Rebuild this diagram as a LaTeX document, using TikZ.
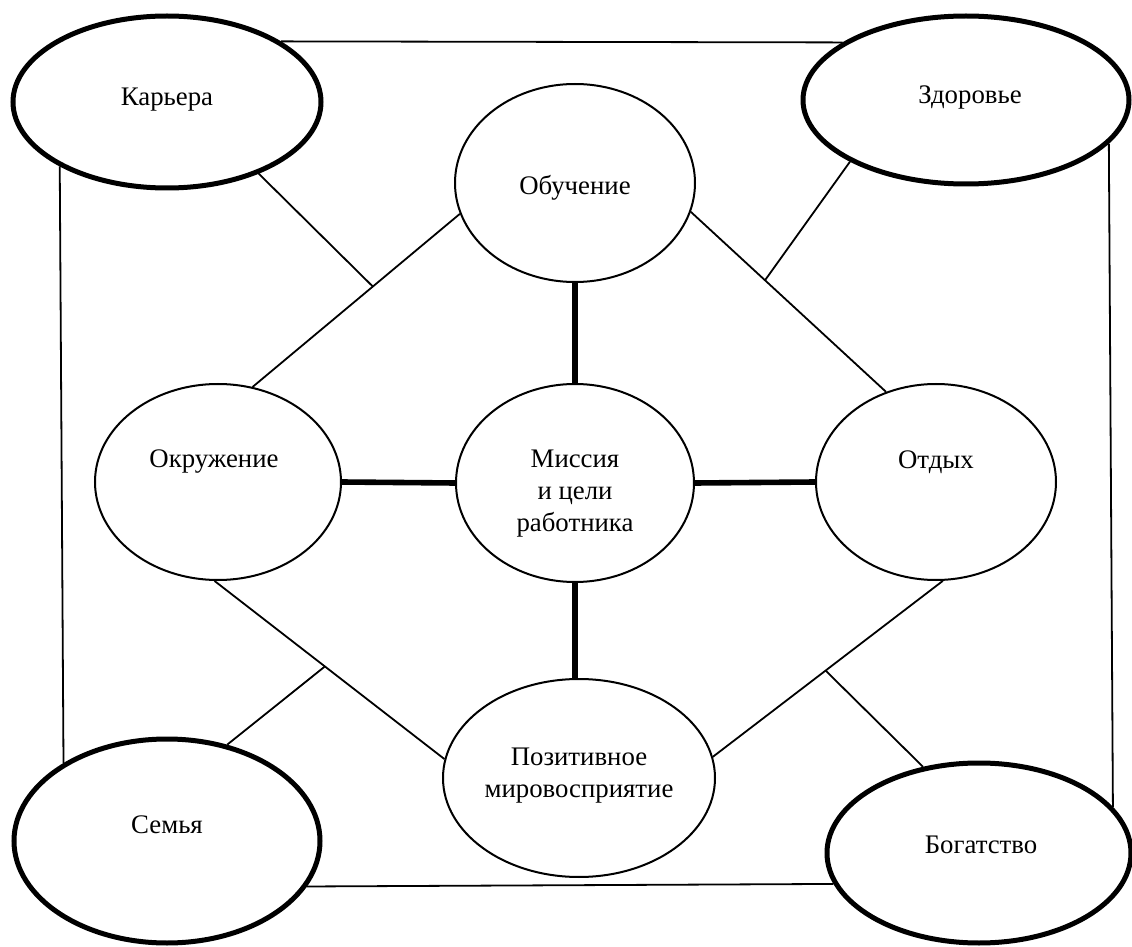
\documentclass[tikz,border=0pt]{standalone}
\usepackage{fontspec}
\setmainfont{Liberation Serif}
\usetikzlibrary{shapes.geometric}
\begin{document}
\begin{tikzpicture}[x=0.5pt,y=-0.5pt,
  thinell/.style={draw, ellipse, line width=1pt, inner sep=0pt, fill=white},
  thickell/.style={draw, ellipse, line width=2.5pt, inner sep=0pt, fill=white},
  lbl/.style={font=\fontsize{13.4}{15.8}\selectfont, anchor=base, inner sep=0pt, align=center},
  thinline/.style={line width=0.9pt},
  thickline/.style={line width=2.8pt}]
\useasboundingbox (0,0) rectangle (1132,947);
\fill[white] (0,0) rectangle (1132,947);
% corner ellipses
\node[thickell, minimum width=154pt, minimum height=86pt] (kar) at (167,102) {};
\node[thickell, minimum width=163pt, minimum height=84pt] (zdr) at (966,100) {};
\node[thickell, minimum width=153pt, minimum height=102pt] (sem) at (167,841) {};
\node[thickell, minimum width=152pt, minimum height=90pt] (bog) at (979,853) {};
% inner ellipses
\node[thinell, minimum width=120pt, minimum height=99pt] (obu) at (575,183) {};
\node[thinell, minimum width=123pt, minimum height=98pt] (okr) at (218,482) {};
\node[thinell, minimum width=119pt, minimum height=99pt] (mis) at (575,483) {};
\node[thinell, minimum width=120pt, minimum height=98pt] (otd) at (936,482) {};
\node[thinell, minimum width=136pt, minimum height=99pt] (poz) at (579,778) {};
% labels
\node[lbl] (tkar) at (167,106) {Карьера};
\node[lbl] (tzdr) at (970,104) {Здоровье};
\node[lbl] (tsem) at (167,833) {Семья};
\node[lbl] (tbog) at (981,853) {Богатство};
\node[lbl] (tobu) at (575,195) {Обучение};
\node[lbl] (tokr) at (214,467) {Окружение};
\node[lbl] (totd) at (936,468) {Отдых};
\node[lbl] (tmis) at (575,531) {Миссия\\и цели\\работника};
\node[lbl] (tpoz) at (579,797) {Позитивное\\мировосприятие};
% outer frame
\draw[thinline] (kar.28) -- (zdr.155);
\draw[thinline] (kar.211) -- (sem.143);
\draw[thinline] (zdr.343) -- (bog.19);
\draw[thinline] (sem.342) -- (bog.192);
% thick connectors
\draw[thickline] (obu.south) -- (mis.north);
\draw[thickline] (okr.east) -- (mis.west);
\draw[thickline] (mis.east) -- (otd.west);
\draw[thickline] (mis.south) -- (mis.south |- poz.north);
% diamond
\draw[thinline] (obu.195) -- (okr.70) coordinate[pos=0.42] (m1);
\draw[thinline] (obu.346) -- (otd.119) coordinate[pos=0.38] (m2);
\draw[thinline] (okr.268) -- (poz.172) coordinate[pos=0.48] (m3);
\draw[thinline] (otd.274) -- (poz.9) coordinate[pos=0.51] (m4);
% corner connectors
\draw[thinline] (kar.322) -- (m1);
\draw[thinline] (zdr.208) -- (m2);
\draw[thinline] (sem.58) -- (m3);
\draw[thinline] (bog.123) -- (m4);
\end{tikzpicture}
\end{document}
